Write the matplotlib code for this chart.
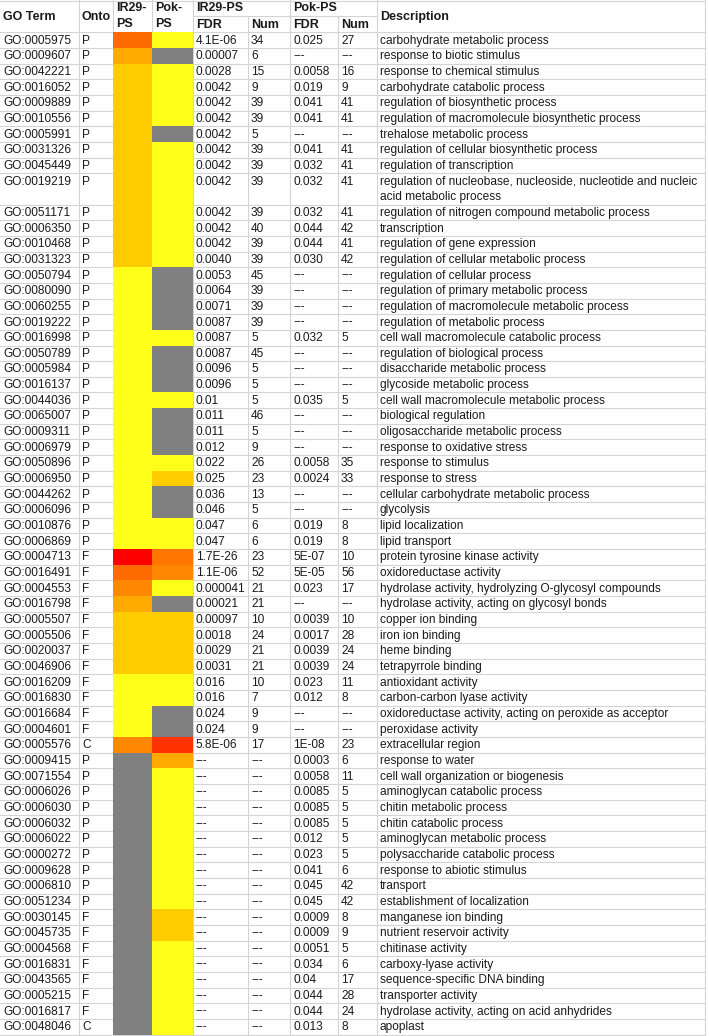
import matplotlib
matplotlib.use("Agg")
import matplotlib.pyplot as plt
from matplotlib.patches import Rectangle
from matplotlib import font_manager

# ---------------- data ----------------
go_terms = ["GO:0005975", "GO:0009607", "GO:0042221", "GO:0016052", "GO:0009889", "GO:0010556",
            "GO:0005991", "GO:0031326", "GO:0045449", "GO:0019219", "GO:0051171", "GO:0006350",
            "GO:0010468", "GO:0031323", "GO:0050794", "GO:0080090", "GO:0060255", "GO:0019222",
            "GO:0016998", "GO:0050789", "GO:0005984", "GO:0016137", "GO:0044036", "GO:0065007",
            "GO:0009311", "GO:0006979", "GO:0050896", "GO:0006950", "GO:0044262", "GO:0006096",
            "GO:0010876", "GO:0006869", "GO:0004713", "GO:0016491", "GO:0004553", "GO:0016798",
            "GO:0005507", "GO:0005506", "GO:0020037", "GO:0046906", "GO:0016209", "GO:0016830",
            "GO:0016684", "GO:0004601", "GO:0005576", "GO:0009415", "GO:0071554", "GO:0006026",
            "GO:0006030", "GO:0006032", "GO:0006022", "GO:0000272", "GO:0009628", "GO:0006810",
            "GO:0051234", "GO:0030145", "GO:0045735", "GO:0004568", "GO:0016831", "GO:0043565",
            "GO:0005215", "GO:0016817", "GO:0048046"]
onto = list("P" * 32 + "F" * 12 + "C" + "P" * 10 + "F" * 7 + "C")
ir29_fdr = ["4.1E-06", "0.00007", "0.0028", "0.0042", "0.0042", "0.0042", "0.0042", "0.0042",
            "0.0042", "0.0042", "0.0042", "0.0042", "0.0042", "0.0040", "0.0053", "0.0064",
            "0.0071", "0.0087", "0.0087", "0.0087", "0.0096", "0.0096", "0.01", "0.011", "0.011",
            "0.012", "0.022", "0.025", "0.036", "0.046", "0.047", "0.047", "1.7E-26", "1.1E-06",
            "0.000041", "0.00021", "0.00097", "0.0018", "0.0029", "0.0031", "0.016", "0.016",
            "0.024", "0.024", "5.8E-06"] + ["---"] * 18
ir29_num = ["34", "6", "15", "9", "39", "39", "5", "39", "39", "39", "39", "40", "39", "39", "45",
            "39", "39", "39", "5", "45", "5", "5", "5", "46", "5", "9", "26", "23", "13", "5", "6",
            "6", "23", "52", "21", "21", "10", "24", "21", "21", "10", "7", "9", "9", "17"] + ["---"] * 18
pok_fdr = ["0.025", "---", "0.0058", "0.019", "0.041", "0.041", "---", "0.041", "0.032", "0.032",
           "0.032", "0.044", "0.044", "0.030", "---", "---", "---", "---", "0.032", "---", "---",
           "---", "0.035", "---", "---", "---", "0.0058", "0.0024", "---", "---", "0.019", "0.019",
           "5E-07", "5E-05", "0.023", "---", "0.0039", "0.0017", "0.0039", "0.0039", "0.023",
           "0.012", "---", "---", "1E-08", "0.0003", "0.0058", "0.0085", "0.0085", "0.0085",
           "0.012", "0.023", "0.041", "0.045", "0.045", "0.0009", "0.0009", "0.0051", "0.034",
           "0.04", "0.044", "0.044", "0.013"]
pok_num = ["27", "---", "16", "9", "41", "41", "---", "41", "41", "41", "41", "42", "41", "42",
           "---", "---", "---", "---", "5", "---", "---", "---", "5", "---", "---", "---", "35",
           "33", "---", "---", "8", "8", "10", "56", "17", "---", "10", "28", "24", "24", "11",
           "8", "---", "---", "23", "6", "11", "5", "5", "5", "5", "5", "6", "42", "42", "8", "9",
           "5", "6", "17", "28", "24", "8"]
descriptions = [
    "carbohydrate metabolic process", "response to biotic stimulus",
    "response to chemical stimulus", "carbohydrate catabolic process",
    "regulation of biosynthetic process", "regulation of macromolecule biosynthetic process",
    "trehalose metabolic process", "regulation of cellular biosynthetic process",
    "regulation of transcription",
    "regulation of nucleobase, nucleoside, nucleotide and nucleic\nacid metabolic process",
    "regulation of nitrogen compound metabolic process", "transcription",
    "regulation of gene expression", "regulation of cellular metabolic process",
    "regulation of cellular process", "regulation of primary metabolic process",
    "regulation of macromolecule metabolic process", "regulation of metabolic process",
    "cell wall macromolecule catabolic process", "regulation of biological process",
    "disaccharide metabolic process", "glycoside metabolic process",
    "cell wall macromolecule metabolic process", "biological regulation",
    "oligosaccharide metabolic process", "response to oxidative stress",
    "response to stimulus", "response to stress", "cellular carbohydrate metabolic process",
    "glycolysis", "lipid localization", "lipid transport", "protein tyrosine kinase activity",
    "oxidoreductase activity", "hydrolase activity, hydrolyzing O-glycosyl compounds",
    "hydrolase activity, acting on glycosyl bonds", "copper ion binding", "iron ion binding",
    "heme binding", "tetrapyrrole binding", "antioxidant activity",
    "carbon-carbon lyase activity", "oxidoreductase activity, acting on peroxide as acceptor",
    "peroxidase activity", "extracellular region", "response to water",
    "cell wall organization or biogenesis", "aminoglycan catabolic process",
    "chitin metabolic process", "chitin catabolic process", "aminoglycan metabolic process",
    "polysaccharide catabolic process", "response to abiotic stimulus", "transport",
    "establishment of localization", "manganese ion binding", "nutrient reservoir activity",
    "chitinase activity", "carboxy-lyase activity", "sequence-specific DNA binding",
    "transporter activity", "hydrolase activity, acting on acid anhydrides", "apoplast"]

# heat levels (0 = not significant / grey)
ir29_level = ["5", "3"] + ["2"] * 12 + ["1"] * 18 + ["7", "5", "4", "3", "2", "2", "2", "2",
              "1", "1", "1", "1", "4"] + ["0"] * 18
pok_level = ["1", "0", "1", "1", "1", "1", "0", "1", "1", "1", "1", "1", "1", "1",
             "0", "0", "0", "0", "1", "0", "0", "0", "1", "0", "0", "0", "1", "2", "0", "0",
             "1", "1", "o", "4", "1", "0", "2", "2", "2", "2", "1", "1", "0", "0", "6", "3"] \
            + ["1"] * 9 + ["2", "2"] + ["1"] * 6

level_colors = {"0": "#808080", "1": "#FFFF1A", "2": "#FFCC00", "3": "#FFAA00",
                "4": "#FF8800", "o": "#FF7700", "5": "#FF6A00", "6": "#FF3300", "7": "#FF0000"}

# ---------------- layout ----------------
W, H = 709, 1036
fig = plt.figure(figsize=(W / 100, H / 100), dpi=100)
ax = fig.add_axes([0, 0, 1, 1])
ax.set_xlim(0, W)
ax.set_ylim(H, 0)
ax.axis("off")

avail = {f.name for f in font_manager.fontManager.ttflist}
FAM = "Liberation Sans" if "Liberation Sans" in avail else "DejaVu Sans"
FS = 8.6
HFS = 9.0
TXT = "#1a1a1a"
GRID = "#d4d4d4"

col_x = [0, 79, 113, 152, 193, 248, 290, 338, 377, 705]
header_h = 32.3
row_h = 15.66
pad = 3

# row positions
tops = []
y = header_h
for d in descriptions:
    n = d.count("\n") + 1
    tops.append((y, n * row_h))
    y += n * row_h
bottom = y

# grid lines
for yy in [0.5, header_h] + [t + h for t, h in tops]:
    ax.plot([col_x[0], col_x[-1]], [yy, yy], color=GRID, lw=0.8, zorder=1)
ax.plot([col_x[4], col_x[8]], [15.8, 15.8], color=GRID, lw=0.8, zorder=1)
for i, xx in enumerate(col_x):
    if i == 0:
        continue
    if xx in (col_x[5], col_x[7]):
        ax.plot([xx, xx], [15.8, bottom], color=GRID, lw=0.8, zorder=1)
    else:
        ax.plot([xx, xx], [0, bottom], color=GRID, lw=0.8, zorder=1)

# heat cells
for (t, h), a, b in zip(tops, ir29_level, pok_level):
    ax.add_patch(Rectangle((col_x[2], t), col_x[3] - col_x[2], h,
                           facecolor=level_colors[a], edgecolor="none", zorder=2))
    ax.add_patch(Rectangle((col_x[3], t), col_x[4] - col_x[3], h,
                           facecolor=level_colors[b], edgecolor="none", zorder=2))

# header text
hk = dict(fontsize=HFS, family=FAM, fontweight="bold", color=TXT, va="center", ha="left", zorder=3)
ax.text(col_x[0] + pad, 17, "GO Term", **hk)
ax.text(col_x[1] + pad, 17, "Onto", **hk)
ax.text(col_x[2] + pad, 8, "IR29-", **hk)
ax.text(col_x[2] + pad, 24, "PS", **hk)
ax.text(col_x[3] + pad, 8, "Pok-", **hk)
ax.text(col_x[3] + pad, 24, "PS", **hk)
ax.text(col_x[4] + pad, 8, "IR29-PS", **hk)
ax.text(col_x[6] + pad, 8, "Pok-PS", **hk)
ax.text(col_x[4] + pad, 24.5, "FDR", **hk)
ax.text(col_x[5] + pad, 24.5, "Num", **hk)
ax.text(col_x[6] + pad, 24.5, "FDR", **hk)
ax.text(col_x[7] + pad, 24.5, "Num", **hk)
ax.text(col_x[8] + pad, 17, "Description", **hk)

# body text
tk = dict(fontsize=FS, family=FAM, color=TXT, va="center", ha="left", zorder=3)
for i, (t, h) in enumerate(tops):
    yc = t + row_h / 2 + 0.5
    vals = [go_terms[i], onto[i], None, None, ir29_fdr[i], ir29_num[i], pok_fdr[i], pok_num[i]]
    for c, v in enumerate(vals):
        if v is None:
            continue
        ax.text(col_x[c] + pad, yc, v, **tk)
    for k, line in enumerate(descriptions[i].split("\n")):
        ax.text(col_x[8] + pad, yc + k * row_h, line, **tk)

fig.savefig("out.png", dpi=100)
